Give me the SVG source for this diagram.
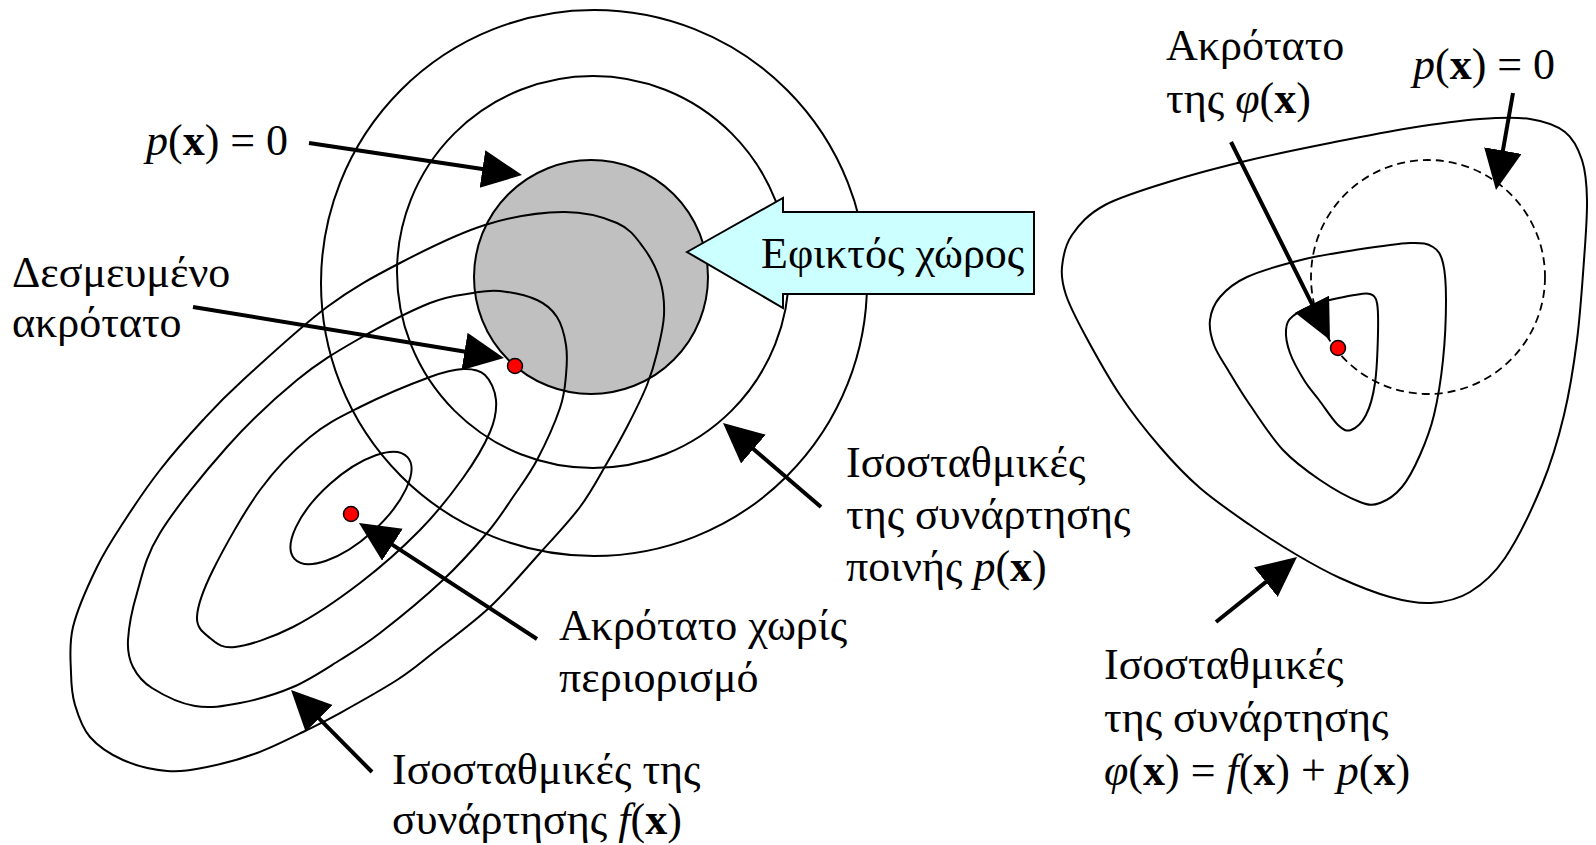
<svg xmlns="http://www.w3.org/2000/svg" width="1596" height="845" viewBox="0 0 1596 845">
<style>
.c{fill:none;stroke:#000;stroke-width:2}
.dash{fill:none;stroke:#000;stroke-width:1.8;stroke-dasharray:8 5}
.dot{fill:#ff0000;stroke:#000;stroke-width:1.5}
.arr{fill:none;stroke:#000;stroke-width:4;marker-end:url(#ah)}
text{font-family:"Liberation Serif","DejaVu Serif",serif;font-size:44px;fill:#000}
.i{font-style:italic}
.b{font-weight:bold}
</style>
<defs>
<marker id="ah" markerUnits="userSpaceOnUse" markerWidth="44" markerHeight="40" viewBox="0 0 44 40" refX="15" refY="19" orient="auto">
<path d="M0,0 L40,19 L0,38 Z" fill="#000"/>
</marker>
</defs>
<rect width="1596" height="845" fill="#fff"/>

<g id="feasible-region">
<circle cx="591" cy="277" r="117" fill="#c0c0c0" stroke="#000" stroke-width="2"/>
</g>

<g id="penalty-contours">
<circle class="c" cx="594" cy="283" r="273"/>
<circle class="c" cx="593" cy="272" r="196"/>
</g>

<g id="f-contours">
<ellipse class="c" cx="351" cy="508" rx="76" ry="32" transform="rotate(-42 351 508)"/>
<path class="c" d="M197,617 C197.5,605.7 202.5,591.2 213,570 C223.5,548.8 243.8,512.2 260,490 C276.2,467.8 293.3,450.8 310,437 C326.7,423.2 340,417 360,407 C380,397 412.8,383.3 430,377 C447.2,370.7 453.8,369.3 463,369 C472.2,368.7 479.5,369.8 485,375 C490.5,380.2 495.2,390.5 496,400 C496.8,409.5 495.5,419 490,432 C484.5,445 474.7,461.7 463,478 C451.3,494.3 437.2,512.5 420,530 C402.8,547.5 381.2,566.8 360,583 C338.8,599.2 313.8,616.3 293,627 C272.2,637.7 248.8,645.2 235,647 C221.2,648.8 216.3,643 210,638 C203.7,633 196.5,628.3 197,617 Z"/>
<path class="c" d="M128,640 C128.7,627.7 131.7,610.8 137,593 C142.3,575.2 145,557.3 160,533 C175,508.7 204.2,472.5 227,447 C249.8,421.5 275.3,397.8 297,380 C318.7,362.2 334.8,352.8 357,340 C379.2,327.2 410.7,310.8 430,303 C449.3,295.2 461.3,295 473,293 C484.7,291 489.3,289.8 500,291 C510.7,292.2 527.5,295.7 537,300 C546.5,304.3 552.2,309.5 557,317 C561.8,324.5 564.5,335.3 566,345 C567.5,354.7 567,364.5 566,375 C565,385.5 564.8,393.8 560,408 C555.2,422.2 544.8,445.2 537,460 C529.2,474.8 521.3,484.8 513,497 C504.7,509.2 498.7,519.2 487,533 C475.3,546.8 460.8,563.3 443,580 C425.2,596.7 397.2,619.7 380,633 C362.8,646.3 354.5,651 340,660 C325.5,669 309.7,679.8 293,687 C276.3,694.2 256.3,699.8 240,703 C223.7,706.2 209.7,708.5 195,706 C180.3,703.5 162.3,694.5 152,688 C141.7,681.5 137,675 133,667 C129,659 127.3,652.3 128,640 Z"/>
<path class="c" d="M71,673 C70.7,660 68.7,644.7 73,627 C77.3,609.3 88.3,584.8 97,567 C105.7,549.2 114.5,536.2 125,520 C135.5,503.8 147,486.7 160,470 C173,453.3 189.2,435 203,420 C216.8,405 222.3,398.8 243,380 C263.7,361.2 300.8,326.5 327,307 C353.2,287.5 373.7,276.7 400,263 C426.3,249.3 457.8,233.5 485,225 C512.2,216.5 541,212.3 563,212 C585,211.7 603.7,217.2 617,223 C630.3,228.8 635.8,237.5 643,247 C650.2,256.5 656.5,268.7 660,280 C663.5,291.3 664.5,302.8 664,315 C663.5,327.2 659.8,341.3 657,353 C654.2,364.7 651.8,373 647,385 C642.2,397 634.7,412 628,425 C621.3,438 615,449.3 607,463 C599,476.7 591.2,492 580,507 C568.8,522 555,536.3 540,553 C525,569.7 507.8,590.3 490,607 C472.2,623.7 448.5,640.8 433,653 C417.5,665.2 412.5,670 397,680 C381.5,690 355,704.7 340,713 C325,721.3 320.8,723.3 307,730 C293.2,736.7 273.7,746.8 257,753 C240.3,759.2 222,764 207,767 C192,770 181,772.2 167,771 C153,769.8 135.8,765.7 123,760 C110.2,754.3 98,746.2 90,737 C82,727.8 78.2,715.7 75,705 C71.8,694.3 71.3,686 71,673 Z"/>
</g>

<g id="feasible-label">
<polygon points="687,252 783,198 783,212 1034,212 1034,294 783,294 783,308" fill="#ccffff" stroke="#000" stroke-width="2"/>
<text x="761" y="268">Εφικτός χώρος</text>
</g>

<g id="phi-contours">
<circle class="dash" cx="1428" cy="277" r="117"/>
<path class="c" d="M1062,267 C1063,257 1064.8,245.3 1072,235 C1079.2,224.7 1087.8,214.2 1105,205 C1122.2,195.8 1150.8,187.5 1175,180 C1199.2,172.5 1224.2,166.2 1250,160 C1275.8,153.8 1303.3,148.3 1330,143 C1356.7,137.7 1385,132 1410,128 C1435,124 1460,120.5 1480,119 C1500,117.5 1515.8,116.8 1530,119 C1544.2,121.2 1556.3,125.2 1565,132 C1573.7,138.8 1578.3,148.7 1582,160 C1585.7,171.3 1586.7,183.3 1587,200 C1587.3,216.7 1585.7,236.7 1584,260 C1582.3,283.3 1580.3,314.2 1577,340 C1573.7,365.8 1569.8,390.8 1564,415 C1558.2,439.2 1551.8,461.2 1542,485 C1532.2,508.8 1517,540.2 1505,558 C1493,575.8 1482.3,584.5 1470,592 C1457.7,599.5 1444.3,602.2 1431,603 C1417.7,603.8 1405.2,601.2 1390,597 C1374.8,592.8 1355.5,585 1340,578 C1324.5,571 1312,563.8 1297,555 C1282,546.2 1266.2,536.2 1250,525 C1233.8,513.8 1215,501 1200,488 C1185,475 1173.3,462.5 1160,447 C1146.7,431.5 1132.5,413.7 1120,395 C1107.5,376.3 1094,351.7 1085,335 C1076,318.3 1069.8,306.3 1066,295 C1062.2,283.7 1061,277 1062,267 Z"/>
<path class="c" d="M1210,320 C1211,312 1213.8,304.2 1220,297 C1226.2,289.8 1233.5,283.2 1247,277 C1260.5,270.8 1283,264.5 1301,260 C1319,255.5 1336.8,252.8 1355,250 C1373.2,247.2 1397,243.5 1410,243 C1423,242.5 1427.5,243.7 1433,247 C1438.5,250.3 1440.8,254.2 1443,263 C1445.2,271.8 1446,283.8 1446,300 C1446,316.2 1445,340.8 1443,360 C1441,379.2 1437.8,399.2 1434,415 C1430.2,430.8 1425.3,443 1420,455 C1414.7,467 1408.7,479 1402,487 C1395.3,495 1387,500.5 1380,503 C1373,505.5 1370,505.8 1360,502 C1350,498.2 1332.8,488.7 1320,480 C1307.2,471.3 1294.7,462.5 1283,450 C1271.3,437.5 1259.2,418.3 1250,405 C1240.8,391.7 1234,380 1228,370 C1222,360 1217,353.3 1214,345 C1211,336.7 1209,328 1210,320 Z"/>
<path class="c" d="M1286,330 C1286.5,323.8 1287.5,320.5 1293,316 C1298.5,311.5 1308.7,306.5 1319,303 C1329.3,299.5 1346.5,296.5 1355,295 C1363.5,293.5 1366.3,292.7 1370,294 C1373.7,295.3 1375.7,296.5 1377,303 C1378.3,309.5 1378.3,319.7 1378,333 C1377.7,346.3 1377,369.3 1375,383 C1373,396.7 1370,407.2 1366,415 C1362,422.8 1355.7,428.3 1351,430 C1346.3,431.7 1343.3,430 1338,425 C1332.7,420 1324.7,407.5 1319,400 C1313.3,392.5 1308.8,387.8 1304,380 C1299.2,372.2 1293,361.3 1290,353 C1287,344.7 1285.5,336.2 1286,330 Z"/>
</g>

<g id="optima">
<circle class="dot" cx="515" cy="366" r="7.5"/>
<circle class="dot" cx="351" cy="514" r="7.5"/>
<circle class="dot" cx="1338" cy="348" r="7.5"/>
</g>

<g id="connectors">
<line class="arr" x1="309" y1="143" x2="497.3" y2="171.3"/>
<line class="arr" x1="193" y1="307" x2="479.3" y2="354"/>
<line class="arr" x1="537" y1="639" x2="379.9" y2="536.6"/>
<line class="arr" x1="372" y1="772" x2="308.6" y2="707.8"/>
<line class="arr" x1="821" y1="507" x2="742" y2="439.3"/>
<line class="arr" x1="1231" y1="142" x2="1318.8" y2="317.6"/>
<line class="arr" x1="1513" y1="93" x2="1500.3" y2="165.4"/>
<line class="arr" x1="1216" y1="622" x2="1277.5" y2="572.7"/>
</g>

<g id="labels">
<text x="146" y="155"><tspan class="i">p</tspan>(<tspan class="b">x</tspan>) = 0</text>
<text x="12" y="287">Δεσμευμένο</text>
<text x="12" y="337">ακρότατο</text>
<text x="846" y="477">Ισοσταθμικές</text>
<text x="846" y="529">της συνάρτησης</text>
<text x="846" y="581">ποινής <tspan class="i">p</tspan>(<tspan class="b">x</tspan>)</text>
<text x="559" y="640">Ακρότατο χωρίς</text>
<text x="559" y="692">περιορισμό</text>
<text x="392" y="784">Ισοσταθμικές της</text>
<text x="392" y="834">συνάρτησης <tspan class="i">f</tspan>(<tspan class="b">x</tspan>)</text>
<text x="1166" y="60">Ακρότατο</text>
<text x="1166" y="113">της <tspan class="i">φ</tspan>(<tspan class="b">x</tspan>)</text>
<text x="1413" y="79"><tspan class="i">p</tspan>(<tspan class="b">x</tspan>) = 0</text>
<text x="1104" y="679">Ισοσταθμικές</text>
<text x="1104" y="732">της συνάρτησης</text>
<text x="1104" y="785"><tspan class="i">φ</tspan>(<tspan class="b">x</tspan>) = <tspan class="i">f</tspan>(<tspan class="b">x</tspan>) + <tspan class="i">p</tspan>(<tspan class="b">x</tspan>)</text>
</g>
</svg>
